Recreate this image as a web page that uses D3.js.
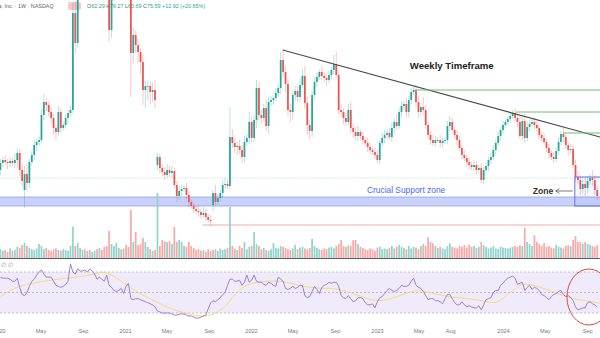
<!DOCTYPE html>
<html><head><meta charset="utf-8">
<script src="https://cdn.jsdelivr.net/npm/d3@7"></script>
<style>html,body{margin:0;padding:0;background:#fff;overflow:hidden}svg{display:block;font-family:"Liberation Sans",Arial,sans-serif}</style>
</head><body><svg id="c" width="600" height="338"></svg>
<script>
// ---------- DATA ----------
const firstWeek = "2020-01-06";
const closes = [87,90,88,87,89,87,90,97,80,69,
76,67,88,95,105,108,110,135,148,145,
138,132,122,118,138,122,125,132,137,140,
237,207,265,290,305,300,335,325,345,360,
350,375,365,340,310,220,255,290,310,330,
320,345,330,300,197,215,205,198,188,160,
164,164,158,160,150,93,82,78,75,80,
77,79,65,54,59,61,62,55,48,44,
41,39,38,35,37,33,30,29,57,48,
52,57,65,66,64,113,107,103,104,100,
93,108,112,128,112,130,162,135,132,142,
124,148,150,152,157,162,190,178,166,140,
138,155,159,153,165,174,147,125,119,155,
168,173,178,174,172,170,175,180,186,175,
140,138,132,128,140,122,118,114,118,114,
110,107,103,100,98,95,90,107,112,115,
117,113,122,128,124,138,144,146,138,150,
158,160,148,138,143,140,125,115,110,107,
110,110,107,109,110,124,128,120,115,110,
102,95,92,88,85,83,85,80,82,70,
80,84,90,93,100,107,114,120,125,128,
131,134,137,132,128,114,129,112,123,126,
128,125,122,115,112,108,102,97,93,91,
99,108,116,113,105,100,101,85,73,70,
61,66,62,69,72,70,60,54];
const gapOpens = {0:80, 10:60, 65:85, 88:45};
const upWick = [4,3,5,3,4,3,6,5,4,6,
8,10,3,4,5,3,4,6,8,4,
3,5,4,3,6,4,3,4,3,5,
10,12,6,5,8,4,6,5,7,6,
5,8,6,4,5,25,6,5,8,6,
5,7,6,5,12,8,5,6,4,8,
5,6,4,8,10,4,3,4,5,6,
4,5,3,4,5,4,3,5,4,3,
3,4,5,3,6,4,3,5,3,8,
4,3,5,6,4,30,8,5,4,6,
5,6,4,10,6,5,8,6,5,4,
8,5,4,3,5,4,8,10,6,5,
6,4,5,5,6,8,10,6,5,4,
5,4,3,6,4,5,4,3,9,12,
5,6,4,5,6,8,4,5,6,3,
4,3,5,4,3,4,5,3,6,5,
4,5,6,3,8,4,5,3,6,4,
4,3,5,6,4,10,5,3,4,5,
4,3,5,4,3,5,6,4,3,5,
4,3,5,3,4,3,5,4,3,5,
4,3,3,4,5,3,4,3,4,3,
3,4,3,5,4,6,4,8,5,4,
3,5,4,3,4,5,3,4,3,5,
4,5,3,6,4,3,5,4,5,6,
5,4,6,5,4,8,5,4];
const loWick = [5,4,3,6,4,3,5,8,6,5,
18,8,5,4,5,6,4,3,5,6,
4,5,6,8,4,5,3,4,6,3,
3,10,5,6,8,5,4,6,5,8,
6,5,8,6,10,12,8,6,5,8,
6,8,10,12,44,10,8,10,12,15,
18,14,12,10,8,5,6,4,5,3,
4,5,3,6,4,5,3,4,5,3,
4,3,5,4,3,4,3,5,6,4,
3,4,5,4,3,4,5,6,8,4,
6,5,4,6,5,4,8,5,6,4,
5,8,4,5,3,4,6,5,8,6,
10,8,6,5,4,3,6,10,8,6,
4,5,3,4,5,6,3,4,5,3,
4,5,6,4,3,5,6,4,5,3,
4,3,5,4,3,3,3,4,3,5,
4,3,5,6,4,3,5,4,6,5,
4,3,5,6,4,5,3,4,5,3,
4,3,5,4,3,4,5,3,4,5,
3,4,3,5,4,3,4,5,3,3,
4,3,5,4,3,4,3,5,4,3,
3,4,3,4,5,3,4,5,3,4,
3,4,3,5,4,3,4,5,3,4,
3,4,3,5,4,6,4,3,5,4,
6,4,8,5,4,6,5,4];
const volumes = [22,18,20,15,24,18,20,28,25,32,
38,30,26,22,20,24,35,30,22,25,
20,18,22,24,20,18,22,20,18,30,
78,30,38,25,20,22,18,20,15,18,
22,25,20,28,30,68,35,30,38,25,
22,24,33,28,120,40,65,32,35,50,
40,28,22,18,20,163,30,45,42,40,
42,35,78,40,45,40,30,28,40,30,
25,20,22,18,20,16,22,18,20,22,
18,24,20,22,25,128,30,24,20,30,
25,40,22,28,30,65,35,30,22,25,
20,18,22,37,25,24,30,28,25,22,
20,24,33,22,26,28,24,22,25,48,
30,25,22,20,24,22,26,28,24,30,
35,45,30,28,32,30,45,45,35,28,
25,22,20,24,22,18,26,28,22,24,
22,26,30,24,28,33,28,25,22,30,
24,28,26,22,30,35,30,52,40,37,
30,25,28,24,22,30,37,28,26,24,
30,28,32,26,33,28,30,25,28,40,
32,28,24,26,30,24,22,28,26,25,
24,26,28,30,28,32,30,75,40,35,
30,57,40,35,30,37,28,30,26,24,
33,28,26,24,30,32,30,45,55,40,
40,36,40,35,33,30,28,32];
const rsi = [65,64,64,64,63,61,61,64,55,48,
47,50,56,61,63,67,70,72,68,65,
65,65,61,57,56,55,56,58,61,78,
70,68,73,71,71,72,70,73,71,68,
63,65,63,61,67,57,55,52,51,52,
54,49,56,59,44,43,44,44,43,42,
41,40,39,38,36,32,31,30,30,30,
30,29,28,28,29,29,29,28,27,27,
26,25,25,26,27,28,34,40,42,41,
43,45,48,50,57,63,63,61,61,62,
57,60,67,60,62,67,61,60,60,58,
57,60,59,57,56,65,63,61,54,53,
54,56,54,55,57,57,47,45,46,51,
56,53,49,55,57,58,60,59,60,60,
56,47,45,44,47,44,41,42,45,45,
44,40,38,38,39,35,41,45,46,49,
52,54,52,51,52,54,57,56,56,57,
61,64,57,55,54,51,47,43,44,44,
42,42,41,39,44,48,48,44,40,38,
38,41,38,36,37,36,35,35,37,33,
38,43,44,45,50,52,52,57,59,62,
64,65,66,64,58,59,60,52,55,57,
53,55,54,52,48,47,45,43,46,48,
49,51,52,48,46,47,45,42,36,33,
34,35,35,40,41,39,38,36];
const maWeeks = [0,6.5,13.4,20.3,27.2,34.1,39.6,42.4,45.1,49.3,53.4,57.5,63,68.6,74.1,79.6,85.1,89.3,93.4,96.2,98.9,101.7,107.2,112.7,118.2,123.8,130.7,137.6,141.7,145.9,151.4,156.9,162.4,168,172.1,176.2,181.7,187.3,192.8,198.3,203.8,206.6,210.7,214.8,217.6,223.1,228.6,234.1,239.7,245.2,248];
const maValues = [46,55.7,59,62,64,65.4,68.7,70.3,68.7,62.2,55.7,49.2,42.7,36.2,31.3,28,26.4,29.7,36.2,45.9,52.4,57.3,60.6,61.5,60.6,56.5,54.1,54.1,52.4,49.2,44.3,41.1,44.3,49.2,52.4,50.8,47.6,45.3,44.3,42.7,39.4,41.1,49.2,57.3,58.9,55.7,50.8,45.9,42.7,41.1,39.4];
const tickDates = ["2020-01-01","2020-05-01","2020-09-01","2021-01-01","2021-05-01","2021-09-01","2022-01-01","2022-05-01","2022-09-01","2023-01-01","2023-05-01","2023-08-01","2024-01-01","2024-05-01","2024-09-01"];
const tickLabels = ["2020","May","Sep","2021","May","Sep","2022","May","Sep","2023","May","Aug","2024","May","Sep"];
const trendLine = [["2022-04-03",200],["2024-10-08",113]];
const resistance = [["2023-04-20",160],["2024-02-07",138],["2024-06-22",117]];
const supportZone = [44,53];
const boxZone = {start:"2024-07-27", lo:44, hi:73};
const redLevel = {start:"2021-08-14", price:25};
const dottedLevel = 72;

// ---------- SCALES ----------
const P = d => new Date(d + "T00:00:00");
const x = d3.scaleTime().domain([P("2021-01-01"), P("2024-01-01")]).range([125, 503]);
const y = d3.scaleLinear().domain([250, 25]).range([0, 225]);
const yv = d3.scaleLinear().domain([0, 100]).range([258, 218]);
const yr = d3.scaleLinear().domain([30, 70]).range([313, 272]);
const endDate = P("2024-10-08"), startDate = P("2019-12-28");

const w0 = P(firstWeek);
const weeks = closes.map((c, i) => d3.timeDay.offset(w0, 7 * i));
const candles = closes.map((c, i) => {
  const o = gapOpens[i] !== undefined ? gapOpens[i] : closes[i - 1];
  return {d: weeks[i], o, c, h: Math.max(o, c) + upWick[i], l: Math.min(o, c) - loWick[i], up: c >= o};
});

const svg = d3.select("#c");
const UP = "#26a69a", DN = "#ef5350";

// support zone band
svg.append("rect").attr("x", x(startDate)).attr("width", x(endDate) - x(startDate))
  .attr("y", y(supportZone[1])).attr("height", y(supportZone[0]) - y(supportZone[1]))
  .attr("fill", "#c9d1fb");
[supportZone[0], supportZone[1]].forEach(p => svg.append("line")
  .attr("x1", x(startDate)).attr("x2", x(endDate)).attr("y1", y(p)).attr("y2", y(p))
  .attr("stroke", "#93a1f3").attr("stroke-width", 0.8));

// dotted level
svg.append("line").attr("x1", x(startDate)).attr("x2", x(endDate)).attr("y1", y(dottedLevel)).attr("y2", y(dottedLevel))
  .attr("stroke", "#9fc9b5").attr("stroke-width", 0.7).attr("stroke-dasharray", "1,1.5");

// red level
svg.append("line").attr("x1", x(P(redLevel.start))).attr("x2", x(endDate)).attr("y1", y(redLevel.price)).attr("y2", y(redLevel.price))
  .attr("stroke", "#f6a9a9").attr("stroke-width", 1);

// volume
const bw = 1.75;
svg.append("g").selectAll("rect").data(candles.map((c, i) => ({d: c.d, v: volumes[i], up: c.up})))
  .join("rect").attr("x", d => x(d.d) - bw / 2).attr("width", bw)
  .attr("y", d => yv(d.v)).attr("height", d => yv(0) - yv(d.v))
  .attr("fill", d => d.up ? "#93d4cb" : "#f7aaa8");

// pane separator
svg.append("line").attr("x1", 0).attr("x2", 600).attr("y1", 258.5).attr("y2", 258.5).attr("stroke", "#5d606b").attr("stroke-width", 1);

// header
const hdr = svg.append("g").attr("font-size", 5.4);
hdr.append("text").attr("x", -1.5).attr("y", 8).attr("fill", "#5d606b").text("a, Inc. · 1W · NASDAQ");
hdr.append("rect").attr("x", 68).attr("y", 2).attr("width", 13).attr("height", 8).attr("rx", 2).attr("fill", "#f8c6c9");
const ohlc = hdr.append("text").attr("x", 87).attr("y", 8);
[["O","62.29"],["H","76.27"],["L","60.69"],["C","75.59"]].forEach(([k, v]) => {
  ohlc.append("tspan").attr("fill", "#5d606b").text(k);
  ohlc.append("tspan").attr("fill", UP).text(v + " ");
});
ohlc.append("tspan").attr("fill", UP).text("+12.92 (+20.65%)");

// candles
const cg = svg.append("g");
cg.selectAll("line").data(candles).join("line")
  .attr("x1", d => x(d.d)).attr("x2", d => x(d.d)).attr("y1", d => y(d.h)).attr("y2", d => y(d.l))
  .attr("stroke", d => d.up ? UP : DN).attr("stroke-opacity", 0.55).attr("stroke-width", 0.6);
cg.selectAll("rect").data(candles).join("rect")
  .attr("x", d => x(d.d) - bw / 2).attr("width", bw)
  .attr("y", d => y(Math.max(d.o, d.c))).attr("height", d => Math.max(0.8, Math.abs(y(d.o) - y(d.c))))
  .attr("fill", d => d.up ? UP : DN);

// trend line
svg.append("line").attr("x1", x(P(trendLine[0][0]))).attr("y1", y(trendLine[0][1]))
  .attr("x2", x(P(trendLine[1][0]))).attr("y2", y(trendLine[1][1]))
  .attr("stroke", "#4a4a4a").attr("stroke-width", 1.2);

// resistance lines
resistance.forEach(([d, p]) => svg.append("line").attr("x1", x(P(d))).attr("x2", x(endDate))
  .attr("y1", y(p)).attr("y2", y(p)).attr("stroke", "#6cc070").attr("stroke-width", 1));

// zone box
svg.append("rect").attr("x", x(P(boxZone.start))).attr("y", y(boxZone.hi))
  .attr("width", x(endDate) - x(P(boxZone.start)) + 5).attr("height", y(boxZone.lo) - y(boxZone.hi))
  .attr("fill", "rgba(90,110,235,0.06)").attr("stroke", "#6474e5").attr("stroke-width", 1);

// annotations
svg.append("text").attr("x", x(P("2023-04-06"))).attr("y", y(181)).attr("font-size", 9.6).attr("font-weight", 600)
  .attr("fill", "#222").text("Weekly Timeframe");
svg.append("text").attr("x", x(P("2022-12-03"))).attr("y", y(57)).attr("font-size", 8.4)
  .attr("fill", "#4a6cf0").text("Crucial Support zone");
svg.append("text").attr("x", x(P("2024-03-27"))).attr("y", y(56)).attr("font-size", 8.6).attr("font-weight", 600)
  .attr("fill", "#333").text("Zone");
const ay = y(59), ax1 = x(P("2024-06-02")), ax2 = x(P("2024-07-21"));
svg.append("line").attr("x1", ax1).attr("x2", ax2).attr("y1", ay).attr("y2", ay).attr("stroke", "#555").attr("stroke-width", 0.8);
svg.append("path").attr("d", `M${ax1 + 3.5},${ay - 2.5} L${ax1},${ay} L${ax1 + 3.5},${ay + 2.5}`)
  .attr("fill", "none").attr("stroke", "#555").attr("stroke-width", 0.8);

// RSI pane
svg.append("text").attr("x", 1).attr("y", 267).attr("font-size", 6).attr("fill", "#9598a1").text("∅ ∅");
svg.append("rect").attr("x", 0).attr("width", 600).attr("y", yr(70)).attr("height", yr(30) - yr(70)).attr("fill", "#f0ebfa");
[70, 50, 30].forEach(v => svg.append("line").attr("x1", 0).attr("x2", 600).attr("y1", yr(v)).attr("y2", yr(v))
  .attr("stroke", "#a9a6b8").attr("stroke-width", 0.7).attr("stroke-dasharray", "2,2"));
svg.append("path").datum(maWeeks.map((w, i) => [w, maValues[i]]))
  .attr("d", d3.line().x(d => x(d3.timeDay.offset(w0, 7 * d[0]))).y(d => yr(d[1])).curve(d3.curveBasis))
  .attr("fill", "none").attr("stroke", "#f2dc7c").attr("stroke-width", 1);
svg.append("path").datum(rsi.map((v, i) => [weeks[i], v]))
  .attr("d", d3.line().x(d => x(d[0])).y(d => yr(d[1])))
  .attr("fill", "none").attr("stroke", "#8f76d0").attr("stroke-width", 0.9);
svg.append("ellipse").attr("cx", x(P("2024-09-06"))).attr("cy", yr(45.6)).attr("rx", 22).attr("ry", 28)
  .attr("fill", "none").attr("stroke", "#e0474c").attr("stroke-width", 1);

// x axis
const ax = svg.append("g").attr("transform", "translate(0,329)")
  .call(d3.axisBottom(x).tickValues(tickDates.map(P)).tickFormat((d, i) => tickLabels[i]).tickSize(0).tickPadding(0));
ax.select(".domain").remove();
ax.selectAll("text").attr("font-size", 5.6).attr("fill", "#787b86").attr("font-family", "Liberation Sans, Arial, sans-serif");
</script></body></html>
